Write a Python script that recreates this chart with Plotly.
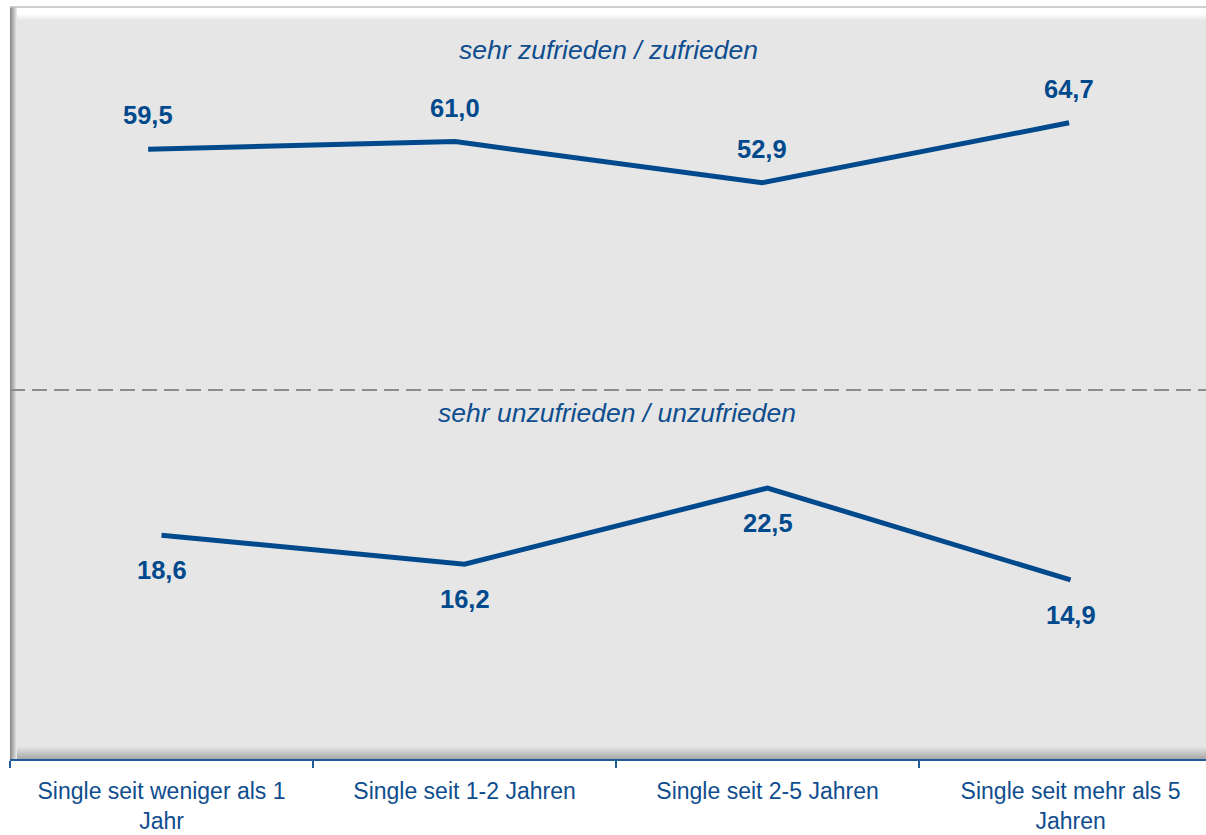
import plotly.graph_objects as go

categories = ["Single seit weniger als 1<br>Jahr", "Single seit 1-2 Jahren",
              "Single seit 2-5 Jahren", "Single seit mehr als 5<br>Jahren"]
zufrieden = [59.5, 61.0, 52.9, 64.7]
unzufrieden = [18.6, 16.2, 22.5, 14.9]
title_top = "sehr zufrieden / zufrieden"
title_bottom = "sehr unzufrieden / unzufrieden"

BLUE = "#00498C"
TXT = "#0F4E8E"
FONT = "Liberation Sans"
SPLIT = 0.4907

fig = go.Figure()
fig.add_trace(go.Scatter(x=categories, y=zufrieden, mode="lines", xaxis="x2", yaxis="y2",
                         line=dict(color=BLUE, width=5), hoverinfo="skip", showlegend=False))
fig.add_trace(go.Scatter(x=categories, y=unzufrieden, mode="lines", xaxis="x", yaxis="y",
                         line=dict(color=BLUE, width=5), hoverinfo="skip", showlegend=False))

def fmt(v):
    return f"{v:.1f}".replace(".", ",")

ann = []
for c, v in zip(categories, zufrieden):
    ann.append(dict(x=c, y=v, xref="x2", yref="y2", text=fmt(v), showarrow=False, yshift=34,
                    font=dict(family=FONT, size=25.5, color=BLUE, weight="bold")))
for c, v in zip(categories, unzufrieden):
    ann.append(dict(x=c, y=v, xref="x", yref="y", text=fmt(v), showarrow=False, yshift=-35,
                    font=dict(family=FONT, size=25.5, color=BLUE, weight="bold")))
ann.append(dict(x=0.5008, y=0.943, xref="paper", yref="paper", text=title_top, showarrow=False,
                xanchor="center", yanchor="middle",
                font=dict(family=FONT, size=26.5, color=TXT, style="italic")))
ann.append(dict(x=0.5075, y=0.460, xref="paper", yref="paper", text=title_bottom, showarrow=False,
                xanchor="center", yanchor="middle",
                font=dict(family=FONT, size=26.5, color=TXT, style="italic")))

# bevel frame shapes (pixel-sized relative to plot edges)
shapes = []
def lerp(c1, c2, t):
    return "rgb(%d,%d,%d)" % tuple(round(a + (b - a) * t) for a, b in zip(c1, c2))
G = (230, 230, 230)
# top highlight
for i in range(14):
    t = i / 13
    col = lerp((255, 255, 255), G, max(0, (t - 0.5) / 0.5))
    shapes.append(dict(type="rect", xref="paper", x0=0, x1=1, yref="paper", ysizemode="pixel",
                       yanchor=1, y0=-i, y1=-i - 1, line=dict(width=0), fillcolor=col, layer="below"))
# bottom shadow
for i in range(13):
    t = i / 12
    col = lerp((170, 170, 170), G, t)
    shapes.append(dict(type="rect", xref="paper", x0=0, x1=1, yref="paper", ysizemode="pixel",
                       yanchor=0, y0=i, y1=i + 1, line=dict(width=0), fillcolor=col, layer="below"))
# left shadow
for i in range(7):
    t = i / 6
    col = lerp((140, 140, 140), G, t)
    shapes.append(dict(type="rect", yref="paper", y0=0, y1=1, xref="paper", xsizemode="pixel",
                       xanchor=0, x0=i, x1=i + 1, line=dict(width=0), fillcolor=col, layer="below"))
# top border line
shapes.append(dict(type="line", xref="paper", x0=0, x1=1, yref="paper", y0=1, y1=1,
                   line=dict(color="#BEBEBE", width=1.5)))
# dashed divider
shapes.append(dict(type="line", xref="paper", x0=0, x1=1, yref="paper", y0=SPLIT, y1=SPLIT,
                   line=dict(color="#8C8C8C", width=2, dash="15px,7px")))

fig.update_layout(
    width=1206, height=835, autosize=False,
    margin=dict(l=10, r=0, t=7, b=76, autoexpand=False),
    paper_bgcolor="white", plot_bgcolor="#E6E6E6",
    font=dict(family=FONT, color=TXT),
    xaxis=dict(type="category", range=[-0.5, 3.447], tickson="boundaries", showgrid=False,
               showline=True, linecolor="#1F5C99", linewidth=2, ticks="outside", ticklen=7,
               tickwidth=2, tickcolor="#1F5C99", tickfont=dict(size=23, color=TXT, family=FONT),
               ticklabelstandoff=10, anchor="y", fixedrange=True, automargin=False),
    xaxis2=dict(type="category", range=[-0.45, 3.446], visible=False, anchor="y2",
                overlaying="x", automargin=False),
    yaxis=dict(domain=[0, SPLIT], range=[0.1, 30.6], visible=False, showgrid=False,
               zeroline=False, automargin=False),
    yaxis2=dict(domain=[SPLIT, 1], range=[12.1, 87.5], visible=False, showgrid=False,
                zeroline=False, automargin=False),
    shapes=shapes, annotations=ann,
)

fig.write_html("out.html", config={"displayModeBar": False},
               post_script="document.body.style.margin='0';document.body.style.overflow='hidden';")
